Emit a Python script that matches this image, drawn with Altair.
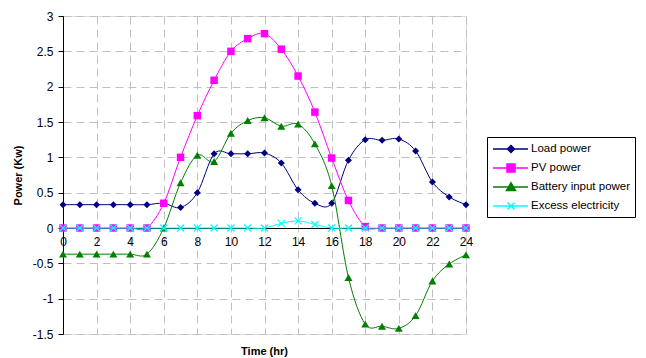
import altair as alt
import pandas as pd

hours = list(range(25))
series_names = ["Load power", "PV power", "Battery input power", "Excess electricity"]
load_power = [0.33, 0.33, 0.33, 0.33, 0.33, 0.33, 0.35, 0.29, 0.50, 1.05, 1.05, 1.05, 1.06,
              0.92, 0.54, 0.35, 0.35, 0.96, 1.25, 1.24, 1.26, 1.09, 0.65, 0.44, 0.33]
pv_power = [0, 0, 0, 0, 0, 0, 0.35, 1.00, 1.59, 2.09, 2.50, 2.68, 2.75,
            2.53, 2.15, 1.64, 0.99, 0.39, 0.02, 0, 0, 0, 0, 0, 0]
battery_power = [-0.37, -0.37, -0.37, -0.37, -0.37, -0.37, 0.00, 0.64, 1.03, 0.94, 1.34, 1.52, 1.56,
                 1.44, 1.47, 1.19, 0.60, -0.70, -1.36, -1.39, -1.42, -1.24, -0.75, -0.51, -0.38]
excess_power = [0, 0, 0, 0, 0, 0, 0, 0, 0, 0, 0, 0, 0.0,
                0.066, 0.10, 0.05, 0, 0, 0, 0, 0, 0, 0, 0, 0]
series_colors = ["#000080", "#FF00FF", "#008000", "#00FFFF"]
x_ticks = list(range(0, 25, 2))
y_ticks = [-1.5, -1, -0.5, 0, 0.5, 1, 1.5, 2, 2.5, 3]

rows = []
for name, vals in zip(series_names, [load_power, pv_power, battery_power, excess_power]):
    for h, v in zip(hours, vals):
        rows.append({"hour": h, "power": v, "series": name})
df = pd.DataFrame(rows)

W, H = 403, 318
FONT = "Liberation Sans"
zero_offset = -H * 1.5 / 4.5

x_scale = alt.Scale(domain=[0, 24], nice=False, zero=False)
y_scale = alt.Scale(domain=[-1.5, 3], nice=False)

x_axis = alt.Axis(values=x_ticks, title=None, grid=True, gridColor="#c0c0c0", gridDash=[8, 5],
                  gridWidth=1, domainColor="black", domainWidth=1, ticks=False, tickSize=0,
                  labelPadding=8, labelFontSize=12, labelFont=FONT, labelColor="black",
                  offset=zero_offset, labelFlush=False, labelOverlap=False)
y_axis = alt.Axis(values=y_ticks, title="Power (Kw)", grid=True, gridColor="#c0c0c0", gridDash=[8, 5],
                  gridWidth=1, domainColor="black", domainWidth=1, tickColor="black", tickSize=5,
                  labelPadding=5, labelFontSize=12, labelFont=FONT, labelColor="black",
                  labelExpr="'' + datum.value", labelOverlap=False, labelFlush=False,
                  titleFont=FONT, titleFontSize=11, titleFontWeight="bold", titleColor="black",
                  titleAngle=270, titleX=-45, titleY=H / 2, titleAlign="center", titleBaseline="middle")

base = alt.Chart(df)
point_shapes = ["diamond", "square", "triangle-up", "M-1,-1L1,1M-1,1L1,-1"]
point_sizes = [49, 56, 64, 49]
point_filled = [True, True, True, False]

layers = []
for i, name in enumerate(series_names):
    sub = base.transform_filter(alt.datum.series == name)
    enc = dict(x=alt.X("hour:Q", scale=x_scale, axis=x_axis),
               y=alt.Y("power:Q", scale=y_scale, axis=y_axis))
    layers.append(sub.mark_line(interpolate="cardinal", color=series_colors[i], strokeWidth=1).encode(**enc))
    layers.append(sub.mark_point(shape=point_shapes[i], size=point_sizes[i], filled=point_filled[i],
                                 color=series_colors[i], opacity=1, strokeWidth=1.2).encode(**enc))

legend_paths = [
    "M-0.857,0H4.143M1.714,-0.5L2.214,0L1.714,0.5L1.214,0Z",
    "M-0.857,0H4.143M1.143,-0.571H2.286V0.571H1.143Z",
    "M-0.857,0H4.143M1.714,-0.6L2.357,0.5L1.071,0.5Z",
    "M-0.857,0H4.143M1.214,-0.5L2.214,0.5M1.214,0.5L2.214,-0.5",
]
legend = alt.Legend(title=None, orient="none", legendX=424, legendY=121, padding=4,
                    strokeColor="black", fillColor="white", symbolSize=196,
                    symbolStrokeWidth=1.5, labelOffset=24, rowPadding=4, labelFont=FONT,
                    labelFontSize=11.5, labelColor="black", symbolOpacity=1, labelLimit=300)
legend_layer = base.transform_filter("false").mark_point(filled=True, opacity=1).encode(
    x=alt.X("hour:Q", scale=x_scale, axis=x_axis),
    y=alt.Y("power:Q", scale=y_scale, axis=y_axis),
    fill=alt.Fill("series:N", scale=alt.Scale(domain=series_names, range=series_colors), legend=legend),
    stroke=alt.Stroke("series:N", scale=alt.Scale(domain=series_names, range=series_colors), legend=legend),
    shape=alt.Shape("series:N", scale=alt.Scale(domain=series_names, range=legend_paths), legend=legend),
)
layers.append(legend_layer)

chart = alt.layer(*layers).properties(
    width=W, height=H,
    title=alt.TitleParams("Time (hr)", orient="bottom", anchor="middle", frame="group",
                          font=FONT, fontSize=11, fontWeight="bold", color="black", offset=6),
    autosize=alt.AutoSizeParams(type="none"),
    padding={"left": 63, "top": 16, "right": 180, "bottom": 24},
).configure_view(stroke="#808080", strokeWidth=1).configure(background="white")

chart.save("out.html", embed_options={"renderer": "svg", "actions": False})
